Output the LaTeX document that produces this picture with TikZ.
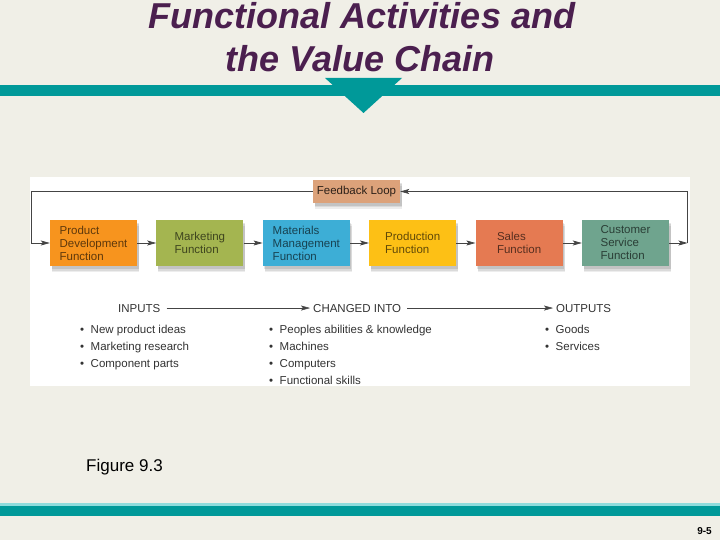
\documentclass[tikz,border=0pt]{standalone}
\usepackage{fontspec}
\setmainfont{Liberation Sans}
\usetikzlibrary{arrows.meta,shadows}
\definecolor{bg}{HTML}{F0EFE7}
\definecolor{tealbar}{HTML}{009999}
\definecolor{tealline}{HTML}{8FDCDC}
\definecolor{titlecol}{HTML}{4B1F4F}
\definecolor{cOrange}{HTML}{F7941E}
\definecolor{cGreen}{HTML}{A4B550}
\definecolor{cBlue}{HTML}{3DAED6}
\definecolor{cYellow}{HTML}{FDC015}
\definecolor{cSales}{HTML}{E57A52}
\definecolor{cCust}{HTML}{6FA48E}
\definecolor{cFeed}{HTML}{DCA27A}
\definecolor{lineCol}{HTML}{444444}
\definecolor{txtCol}{HTML}{333333}
\tikzset{
  softshadow/.style={
    general shadow={fill=black, opacity=0.07, shadow xshift=2pt, shadow yshift=-6pt},
    general shadow={fill=black, opacity=0.08, shadow xshift=2pt, shadow yshift=-4.5pt},
    general shadow={fill=black, opacity=0.10, shadow xshift=1.5pt, shadow yshift=-3pt}},
  fbox/.style={minimum width=87pt, minimum height=46pt, inner sep=0pt, align=left,
    font=\fontsize{11.5}{13}\selectfont, text=black, text opacity=0.62, softshadow},
  conn/.style={draw=lineCol, line width=0.7pt, -{Stealth[length=9pt,width=5pt,inset=2pt]}},
  thin conn/.style={draw=lineCol, line width=0.5pt, -{Stealth[length=9pt,width=5pt,inset=2pt]}},
  lbl/.style={font=\fontsize{11.5}{14}\selectfont, text=txtCol, inner sep=0pt},
  item/.style={font=\fontsize{11.5}{14}\selectfont, text=txtCol, inner sep=0pt, anchor=base west},
  titlestyle/.style={font=\fontsize{36}{44}\selectfont\bfseries\itshape, text=titlecol, inner sep=0pt, anchor=base}
}
\begin{document}
\begin{tikzpicture}[x=1pt,y=-1pt]
\useasboundingbox (0,0) rectangle (720,540);
\fill[bg] (0,0) rectangle (720,540);
% top bar and triangle
\fill[tealbar] (0,85) rectangle (720,96);
\fill[tealbar] (325,78) -- (402,78) -- (363.5,113) -- cycle;
% title
\node[titlestyle] (t1) at (362,29) {Functional Activities and};
\node[titlestyle] (t2) at (360,72) {the Value Chain};
% bottom bar
\fill[tealline] (0,503) rectangle (720,505.5);
\fill[tealbar] (0,505.5) rectangle (720,516);
\node[font=\fontsize{17}{20}\selectfont, inner sep=0pt, anchor=base west] (fig) at (86,471) {Figure 9.3};
\node[font=\fontsize{10}{12}\selectfont\bfseries, inner sep=0pt, anchor=base east] (pg) at (712,534) {9-5};
% panel
\fill[white] (30,177) rectangle (690,386);
% boxes
\node[fbox, fill=cOrange] (b1) at (93.5,243) {Product\\Development\\Function};
\node[fbox, fill=cGreen] (b2) at (199.9,243) {Marketing\\Function};
\node[fbox, fill=cBlue] (b3) at (306.3,243) {Materials\\Management\\Function};
\node[fbox, fill=cYellow] (b4) at (412.7,243) {Production\\Function};
\node[fbox, fill=cSales] (b5) at (519.1,243) {Sales\\Function};
\node[fbox, fill=cCust] (b6) at (625.5,243) {Customer\\Service\\Function};
\node[fbox, fill=cFeed, minimum height=23pt, text opacity=0.8, align=center] (fb) at (356.5,191.5) {Feedback Loop};
% chain connectors
\draw[conn] (b1) -- (b2);
\draw[conn] (b2) -- (b3);
\draw[conn] (b3) -- (b4);
\draw[conn] (b4) -- (b5);
\draw[conn] (b5) -- (b6);
% feedback loop
\coordinate (r) at (687.5,243);
\coordinate (l) at (31,243);
\draw[conn] (b6.east) -- (r);
\draw[conn] (r) |- (fb.east);
\draw[conn] (fb.west) -| (l) -- (b1.west);
% inputs / outputs
\node[lbl, anchor=base west] (in) at (118,312) {INPUTS};
\node[lbl, anchor=base west] (ch) at (313,312) {CHANGED INTO};
\node[lbl, anchor=base west] (out) at (556,312) {OUTPUTS};
\draw[thin conn] ([xshift=6pt]in.east) -- ([xshift=-3pt]ch.west);
\draw[thin conn] ([xshift=6pt]ch.east) -- ([xshift=-3pt]out.west);
% bullet lists
\foreach \t [count=\i] in {New product ideas, Marketing research, Component parts}
  \node[item] (a\i) at (80,{333.5+17*(\i-1)}) {\textbullet\hspace{6.5pt}\t};
\foreach \t [count=\i] in {Peoples abilities \& knowledge, Machines, Computers, Functional skills}
  \node[item] (c\i) at (269,{333.5+17*(\i-1)}) {\textbullet\hspace{6.5pt}\t};
\foreach \t [count=\i] in {Goods, Services}
  \node[item] (o\i) at (545,{333.5+17*(\i-1)}) {\textbullet\hspace{6.5pt}\t};
\end{tikzpicture}
\end{document}
